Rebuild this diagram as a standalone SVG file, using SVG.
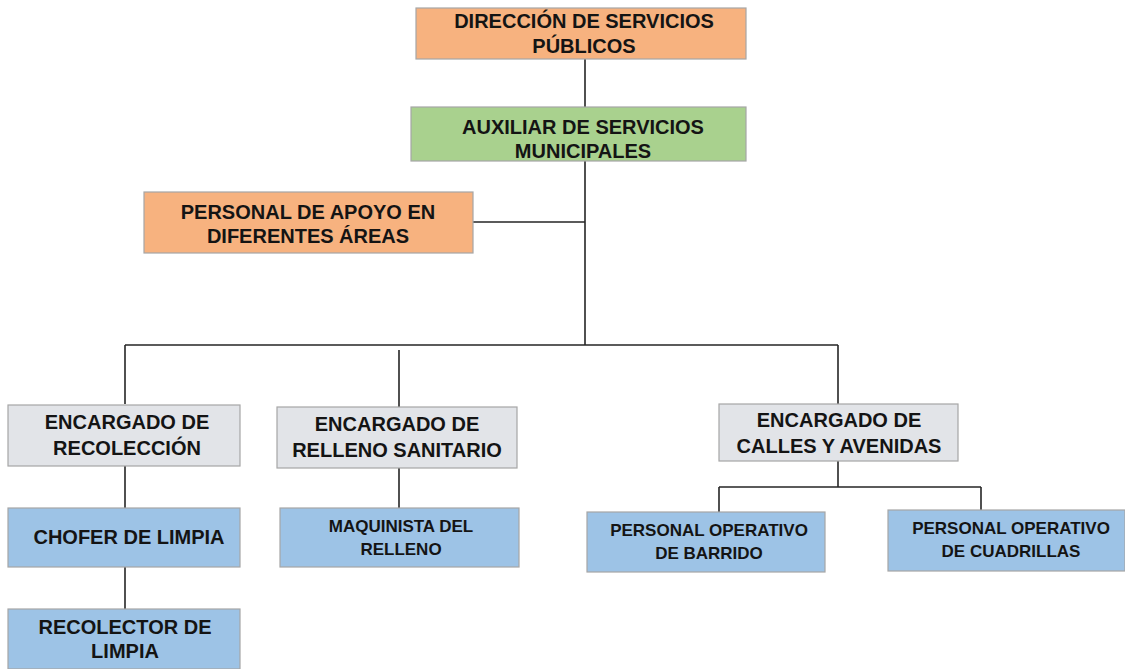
<svg xmlns="http://www.w3.org/2000/svg" width="1125" height="669" viewBox="0 0 1125 669">
<style>
.box{stroke:#a6a6a6;stroke-width:1.2}
.or{fill:#f7b27f}
.gr{fill:#a9d18e}
.gy{fill:#e2e4e8}
.bl{fill:#9dc3e6}
text{font-family:"Liberation Sans",Arial,sans-serif;font-weight:bold;fill:#141414;text-anchor:middle}
.l{font-size:20px}
.s{font-size:17px}
.c{stroke:#262626;stroke-width:1.6;fill:none}
</style>
<rect width="1125" height="669" fill="#ffffff"/>
<g id="connectors">
<path class="c" d="M585 59V107M585 161V345M473 222H585M125 345H838M125 345V404M399 350V407M838 345V404M125 466V508M125 567V609M399 468V508M838 461V487M719 487H981M719 487V512M981 487V510"/>
</g>
<g id="n1"><rect class="box or" x="416" y="8" width="330" height="51"/><text class="l" x="584" y="28">DIRECCIÓN DE SERVICIOS</text><text class="l" x="584" y="53">PÚBLICOS</text></g>
<g id="n2"><rect class="box gr" x="411" y="107" width="335" height="54"/><text class="l" x="583" y="134">AUXILIAR DE SERVICIOS</text><text class="l" x="583" y="158">MUNICIPALES</text></g>
<g id="n3"><rect class="box or" x="144" y="192" width="329" height="61"/><text class="l" x="308" y="219">PERSONAL DE APOYO EN</text><text class="l" x="308" y="243">DIFERENTES ÁREAS</text></g>
<g id="n4"><rect class="box gy" x="8" y="405" width="232" height="61"/><text class="l" x="127" y="429">ENCARGADO DE</text><text class="l" x="127" y="455">RECOLECCIÓN</text></g>
<g id="n5"><rect class="box gy" x="277" y="407" width="240" height="61"/><text class="l" x="397" y="431">ENCARGADO DE</text><text class="l" x="397" y="457">RELLENO SANITARIO</text></g>
<g id="n6"><rect class="box bl" x="8" y="508" width="232" height="59"/><text class="l" x="129" y="544">CHOFER DE LIMPIA</text></g>
<g id="n7"><rect class="box bl" x="8" y="609" width="232" height="60"/><text class="l" x="125" y="634">RECOLECTOR DE</text><text class="l" x="125" y="658">LIMPIA</text></g>
<g id="n8"><rect class="box bl" x="280" y="508" width="239" height="59"/><text class="s" x="401" y="532">MAQUINISTA DEL</text><text class="s" x="401" y="555">RELLENO</text></g>
<g id="n9"><rect class="box gy" x="719" y="404" width="239" height="57"/><text class="l" x="839" y="427">ENCARGADO DE</text><text class="l" x="839" y="453">CALLES Y AVENIDAS</text></g>
<g id="n10"><rect class="box bl" x="587" y="512" width="238" height="60"/><text class="s" x="709" y="536">PERSONAL OPERATIVO</text><text class="s" x="709" y="559">DE BARRIDO</text></g>
<g id="n11"><rect class="box bl" x="888" y="510" width="237" height="61"/><text class="s" x="1011" y="534">PERSONAL OPERATIVO</text><text class="s" x="1011" y="557">DE CUADRILLAS</text></g>
</svg>
